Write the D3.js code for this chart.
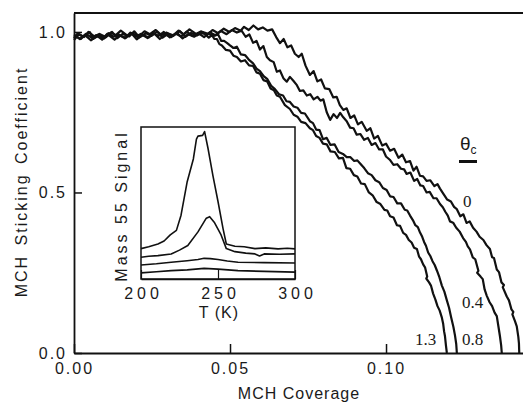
<!DOCTYPE html>
<html lang="en">
<head>
    <meta charset="UTF-8"/>
    <title>MCH Sticking Coefficient</title>
    <script src="https://d3js.org/d3.v7.min.js"></script>
    <style>
        body { margin: 0; background: #fff; }
        svg { display: block; }
        text { font-family: "Liberation Sans", Arial, Helvetica, sans-serif; fill: #1a1a1a; }
        .serif { font-family: "Liberation Serif", "Times New Roman", serif; }
    </style>
</head>
<body>
    <script>
        // main panel: sticking coefficient vs coverage, one curve per theta_c
        var thetaLabels = ["0", "0.4", "0.8", "1.3"];

        var curve0 = [[0.000,0.975],[0.0015,0.992],[0.0032,0.984],[0.0046,1.000],[0.0065,0.986],[0.0081,0.994],[0.0097,0.980],[0.0118,0.998],[0.0134,0.990],[0.0150,1.004],[0.0172,0.988],[0.0189,0.996],[0.0205,0.984],[0.0226,1.002],[0.0243,0.993],[0.0262,1.006],[0.0280,0.990],[0.0297,0.998],[0.0316,0.987],[0.0335,1.004],[0.0352,0.992],[0.0370,1.008],[0.0391,0.994],[0.0408,1.002],[0.0425,0.990],[0.0444,1.006],[0.0462,0.996],[0.0480,1.010],[0.0498,1.000],[0.0516,1.012],[0.0534,1.004],[0.0545,1.016],[0.0560,1.006],[0.0575,1.020],[0.0590,1.008],[0.0605,1.014],[0.0620,1.004],[0.0635,1.008],[0.0648,0.984],[0.0660,0.965],[0.0672,0.978],[0.0684,0.952],[0.0696,0.958],[0.0708,0.932],[0.0720,0.922],[0.0730,0.932],[0.0742,0.895],[0.0756,0.866],[0.0768,0.878],[0.0780,0.846],[0.0792,0.852],[0.0804,0.824],[0.0818,0.822],[0.0831,0.796],[0.0842,0.798],[0.0852,0.772],[0.0863,0.757],[0.0874,0.762],[0.0886,0.732],[0.0898,0.740],[0.0910,0.712],[0.0922,0.720],[0.0938,0.692],[0.0950,0.700],[0.0962,0.668],[0.0974,0.676],[0.0988,0.646],[0.1000,0.652],[0.1013,0.630],[0.1026,0.636],[0.1040,0.608],[0.1052,0.618],[0.1064,0.594],[0.1077,0.598],[0.1088,0.568],[0.1098,0.580],[0.1109,0.552],[0.1119,0.550],[0.1130,0.536],[0.1142,0.538],[0.1155,0.520],[0.1165,0.526],[0.1173,0.512],[0.1185,0.494],[0.1196,0.478],[0.1208,0.472],[0.1218,0.455],[0.1227,0.448],[0.1238,0.426],[0.1248,0.432],[0.1258,0.405],[0.1268,0.410],[0.1279,0.390],[0.1290,0.378],[0.1300,0.362],[0.1312,0.352],[0.1322,0.336],[0.1333,0.324],[0.1340,0.298],[0.1346,0.296],[0.1355,0.260],[0.1362,0.252],[0.1370,0.220],[0.1378,0.212],[0.1374,0.205],[0.1387,0.176],[0.1394,0.164],[0.1402,0.136],[0.1408,0.128],[0.1405,0.120],[0.1413,0.100],[0.1419,0.083],[0.1424,0.050],[0.1426,0.030],[0.1427,0.000]];

        var curve04 = [[0.000,0.988],[0.0022,0.978],[0.0038,0.994],[0.0057,0.982],[0.0071,0.990],[0.0090,0.976],[0.0110,0.996],[0.0127,0.985],[0.0143,0.992],[0.0163,0.980],[0.0181,0.998],[0.0199,0.986],[0.0214,0.994],[0.0236,0.981],[0.0252,0.997],[0.0271,0.988],[0.0288,1.000],[0.0307,0.983],[0.0325,0.995],[0.0344,0.986],[0.0361,1.001],[0.0380,0.988],[0.0399,0.996],[0.0417,0.984],[0.0435,0.999],[0.0453,0.990],[0.0471,1.003],[0.0489,0.993],[0.0506,1.006],[0.0522,0.998],[0.0537,1.004],[0.0550,0.985],[0.0562,0.992],[0.0574,0.966],[0.0585,0.972],[0.0596,0.945],[0.0607,0.956],[0.0618,0.922],[0.0628,0.912],[0.0640,0.906],[0.0650,0.876],[0.0660,0.880],[0.0671,0.856],[0.0682,0.845],[0.0692,0.860],[0.0703,0.848],[0.0713,0.836],[0.0724,0.816],[0.0735,0.818],[0.0746,0.802],[0.0757,0.806],[0.0768,0.790],[0.0780,0.798],[0.0790,0.786],[0.0799,0.790],[0.0810,0.750],[0.0821,0.726],[0.0832,0.744],[0.0843,0.732],[0.0853,0.748],[0.0863,0.734],[0.0874,0.722],[0.0885,0.702],[0.0896,0.700],[0.0906,0.680],[0.0918,0.682],[0.0930,0.664],[0.0942,0.670],[0.0954,0.648],[0.0966,0.654],[0.0978,0.634],[0.0990,0.634],[0.1000,0.612],[0.1012,0.602],[0.1024,0.586],[0.1036,0.588],[0.1048,0.574],[0.1058,0.572],[0.1066,0.558],[0.1078,0.562],[0.1090,0.536],[0.1100,0.542],[0.1110,0.522],[0.1119,0.520],[0.1130,0.500],[0.1140,0.502],[0.1152,0.482],[0.1162,0.482],[0.1173,0.464],[0.1182,0.454],[0.1190,0.440],[0.1198,0.428],[0.1205,0.410],[0.1215,0.406],[0.1225,0.390],[0.1236,0.378],[0.1247,0.358],[0.1256,0.346],[0.1262,0.332],[0.1269,0.323],[0.1278,0.298],[0.1286,0.292],[0.1296,0.256],[0.1292,0.250],[0.1303,0.238],[0.1310,0.230],[0.1316,0.198],[0.1323,0.178],[0.1332,0.158],[0.1340,0.146],[0.1348,0.126],[0.1355,0.115],[0.1360,0.084],[0.1365,0.053],[0.1369,0.024],[0.1371,0.000]];

        var curve08 = [[0.000,0.980],[0.0012,0.996],[0.0029,0.986],[0.0051,0.999],[0.0060,0.978],[0.0085,0.992],[0.0102,0.984],[0.0122,1.000],[0.0139,0.981],[0.0156,0.994],[0.0177,0.986],[0.0193,1.002],[0.0210,0.983],[0.0231,0.996],[0.0248,0.988],[0.0266,1.001],[0.0284,0.982],[0.0302,0.995],[0.0320,0.989],[0.0339,1.003],[0.0357,0.985],[0.0375,0.997],[0.0394,0.989],[0.0413,1.000],[0.0436,0.992],[0.0450,0.988],[0.0462,0.992],[0.0472,0.972],[0.0481,0.972],[0.0490,0.966],[0.0500,0.958],[0.0511,0.950],[0.0522,0.954],[0.0535,0.930],[0.0548,0.928],[0.0560,0.914],[0.0574,0.902],[0.0585,0.886],[0.0596,0.878],[0.0608,0.862],[0.0619,0.854],[0.0632,0.832],[0.0644,0.822],[0.0657,0.806],[0.0670,0.802],[0.0681,0.784],[0.0692,0.782],[0.0704,0.768],[0.0716,0.764],[0.0728,0.748],[0.0740,0.746],[0.0756,0.722],[0.0766,0.716],[0.0776,0.696],[0.0787,0.694],[0.0798,0.666],[0.0810,0.670],[0.0822,0.648],[0.0835,0.650],[0.0848,0.626],[0.0862,0.620],[0.0874,0.610],[0.0886,0.610],[0.0898,0.598],[0.0908,0.600],[0.0917,0.590],[0.0930,0.576],[0.0942,0.560],[0.0954,0.554],[0.0966,0.538],[0.0978,0.532],[0.0990,0.514],[0.1002,0.508],[0.1013,0.488],[0.1024,0.486],[0.1036,0.466],[0.1048,0.466],[0.1060,0.446],[0.1068,0.444],[0.1077,0.428],[0.1086,0.414],[0.1094,0.398],[0.1102,0.392],[0.1109,0.375],[0.1116,0.362],[0.1122,0.346],[0.1128,0.334],[0.1135,0.313],[0.1142,0.302],[0.1149,0.286],[0.1156,0.274],[0.1163,0.257],[0.1171,0.236],[0.1179,0.210],[0.1187,0.191],[0.1195,0.164],[0.1202,0.141],[0.1209,0.110],[0.1216,0.081],[0.1221,0.055],[0.1225,0.028],[0.1227,0.000]];

        var curve13 = [[0.000,0.992],[0.0018,0.978],[0.0035,0.990],[0.0054,0.974],[0.0075,0.988],[0.0093,0.980],[0.0106,0.994],[0.0130,0.976],[0.0146,0.989],[0.0167,0.982],[0.0184,0.996],[0.0201,0.977],[0.0219,0.991],[0.0240,0.983],[0.0257,0.995],[0.0275,0.978],[0.0293,0.992],[0.0311,0.984],[0.0330,0.997],[0.0348,0.980],[0.0366,0.993],[0.0385,0.985],[0.0403,0.998],[0.0420,0.994],[0.0432,0.982],[0.0442,0.990],[0.0450,0.978],[0.0458,0.978],[0.0466,0.962],[0.0474,0.958],[0.0487,0.944],[0.0500,0.942],[0.0511,0.926],[0.0522,0.922],[0.0535,0.908],[0.0548,0.912],[0.0561,0.896],[0.0574,0.894],[0.0585,0.874],[0.0596,0.870],[0.0607,0.850],[0.0619,0.846],[0.0630,0.824],[0.0641,0.818],[0.0650,0.802],[0.0660,0.798],[0.0676,0.772],[0.0692,0.760],[0.0704,0.742],[0.0716,0.736],[0.0728,0.720],[0.0742,0.716],[0.0756,0.700],[0.0766,0.694],[0.0776,0.676],[0.0787,0.670],[0.0798,0.652],[0.0810,0.650],[0.0822,0.628],[0.0836,0.626],[0.0849,0.606],[0.0862,0.608],[0.0873,0.576],[0.0885,0.574],[0.0897,0.554],[0.0908,0.550],[0.0920,0.528],[0.0932,0.526],[0.0945,0.500],[0.0958,0.490],[0.0970,0.470],[0.0982,0.464],[0.0995,0.446],[0.1004,0.444],[0.1013,0.426],[0.1024,0.422],[0.1035,0.398],[0.1045,0.396],[0.1055,0.374],[0.1064,0.368],[0.1073,0.352],[0.1082,0.344],[0.1090,0.328],[0.1099,0.324],[0.1106,0.300],[0.1112,0.292],[0.1119,0.276],[0.1125,0.267],[0.1132,0.238],[0.1129,0.232],[0.1138,0.220],[0.1144,0.210],[0.1151,0.185],[0.1158,0.167],[0.1165,0.146],[0.1172,0.132],[0.1179,0.110],[0.1183,0.092],[0.1186,0.068],[0.1189,0.052],[0.1192,0.024],[0.1195,0.000]];

        var xTicks = [0, 0.05, 0.10];
        var yTicks = [0, 0.5, 1.0];

        // inset: mass 55 TPD traces
        var tpd1 = [[200,0.200],[205,0.212],[211,0.230],[215,0.250],[219,0.290],[223,0.320],[226,0.420],[230,0.640],[234,0.790],[236,0.920],[237,0.940],[240,0.945],[241.3,0.970],[243.5,0.860],[246.7,0.680],[250,0.510],[253.3,0.330],[255.4,0.230],[261,0.215],[267,0.212],[274,0.200],[281,0.205],[289,0.198],[295,0.202],[300,0.198]];
        var tpd2 = [[200,0.143],[205,0.150],[211,0.154],[219.6,0.165],[225,0.190],[230.4,0.220],[237,0.310],[242.4,0.400],[244.6,0.410],[247.8,0.370],[252,0.290],[255.4,0.200],[261,0.180],[268,0.170],[274,0.165],[277,0.152],[280,0.165],[290,0.163],[300,0.165]];
        var tpd3 = [[200,0.092],[210,0.100],[219.6,0.110],[230,0.120],[237,0.128],[241,0.136],[245,0.134],[250,0.128],[256,0.118],[263,0.110],[280,0.108],[300,0.105]];
        var tpd4 = [[200,0.040],[210,0.048],[219.6,0.055],[230,0.060],[241,0.070],[250,0.065],[263,0.055],[280,0.050],[300,0.045]];
        var insetTicks = [200, 250, 300];

        var w = 523;
        var h = 405;

        var svg = d3.select("body")
            .append("svg")
            .attr("width", w)
            .attr("height", h);

        var xScale = d3.scaleLinear().domain([0, 0.1439]).range([74, 523]);
        var yScale = d3.scaleLinear().domain([0, 1.059]).range([353, 13]);

        var line = d3.line()
            .x(function(d) { return xScale(d[0]); })
            .y(function(d) { return yScale(d[1]); });

        [curve0, curve04, curve08, curve13].forEach(function(c) {
            svg.append("path")
                .attr("d", line(c))
                .attr("fill", "none")
                .attr("stroke", "#111")
                .attr("stroke-width", 2.2)
                .attr("stroke-linejoin", "round");
        });

        // axes, ticks point inward
        var xAxis = svg.append("g")
            .attr("transform", "translate(0,353)")
            .call(d3.axisBottom(xScale).tickValues(xTicks).tickFormat(d3.format(".2f"))
                .tickSizeInner(-9).tickSizeOuter(0).tickPadding(10));
        var yAxis = svg.append("g")
            .attr("transform", "translate(74,0)")
            .call(d3.axisLeft(yScale).tickValues(yTicks).tickFormat(d3.format(".1f"))
                .tickSizeInner(-8).tickSizeOuter(0).tickPadding(7));
        [xAxis, yAxis].forEach(function(a) {
            a.select(".domain").attr("stroke", "#111").attr("stroke-width", 1.8);
            a.selectAll(".tick line").attr("stroke", "#111").attr("stroke-width", 1.5);
            a.selectAll(".tick text")
                .attr("font-family", "Liberation Sans, Arial, sans-serif")
                .attr("font-size", 16)
                .attr("letter-spacing", "2px")
                .attr("fill", "#1a1a1a");
        });

        // top frame line
        svg.append("line")
            .attr("x1", xScale(0)).attr("x2", xScale(0.1439))
            .attr("y1", yScale(1.059)).attr("y2", yScale(1.059))
            .attr("stroke", "#111").attr("stroke-width", 1.8);

        // axis titles
        svg.append("text")
            .attr("x", 299).attr("y", 399)
            .attr("text-anchor", "middle")
            .attr("font-size", 16)
            .attr("letter-spacing", "1px")
            .text("MCH Coverage");

        svg.append("text")
            .attr("transform", "translate(27,182) rotate(-90)")
            .attr("text-anchor", "middle")
            .attr("font-size", 16)
            .attr("letter-spacing", "2px")
            .attr("word-spacing", "3px")
            .text("MCH Sticking Coefficient");

        // curve labels
        var labelPos = [[463, 207], [462, 308], [462, 345], [415, 345]];
        thetaLabels.forEach(function(t, i) {
            svg.append("text")
                .attr("class", "serif")
                .attr("x", labelPos[i][0]).attr("y", labelPos[i][1])
                .attr("font-size", 17)
                .text(t);
        });

        // theta_c header with bar
        var head = svg.append("text")
            .attr("x", 460).attr("y", 150)
            .attr("font-size", 19);
        head.append("tspan").text("θ");
        head.append("tspan").attr("font-size", 12).attr("dy", 4).text("c");
        svg.append("rect")
            .attr("x", 459).attr("y", 160)
            .attr("width", 18).attr("height", 3)
            .attr("fill", "#111");

        // inset
        var ix = d3.scaleLinear().domain([200, 300]).range([141, 295]);
        var iy = d3.scaleLinear().domain([0, 1]).range([279, 127]);

        svg.append("rect")
            .attr("x", 141).attr("y", 127)
            .attr("width", 154).attr("height", 152)
            .attr("fill", "#fff")
            .attr("stroke", "#111")
            .attr("stroke-width", 1.5);

        var iline = d3.line()
            .x(function(d) { return ix(d[0]); })
            .y(function(d) { return iy(d[1]); });

        [tpd1, tpd2, tpd3, tpd4].forEach(function(c) {
            svg.append("path")
                .attr("d", iline(c))
                .attr("fill", "none")
                .attr("stroke", "#111")
                .attr("stroke-width", 1.6)
                .attr("stroke-linejoin", "round");
        });

        var iAxis = svg.append("g")
            .attr("transform", "translate(0,279)")
            .call(d3.axisBottom(ix).tickValues(insetTicks).tickFormat(d3.format("d"))
                .tickSizeInner(-9).tickSizeOuter(0).tickPadding(9));
        iAxis.select(".domain").attr("stroke", "#111").attr("stroke-width", 1.5);
        iAxis.selectAll(".tick line").attr("stroke", "#111").attr("stroke-width", 1.2);
        iAxis.selectAll(".tick text")
            .attr("font-family", "Liberation Sans, Arial, sans-serif")
            .attr("font-size", 16)
            .attr("letter-spacing", "4px")
            .attr("dx", "2px")
            .attr("fill", "#1a1a1a");

        svg.append("text")
            .attr("x", 219).attr("y", 318)
            .attr("text-anchor", "middle")
            .attr("font-size", 16)
            .attr("letter-spacing", "1px")
            .text("T (K)");

        svg.append("text")
            .attr("transform", "translate(127,206) rotate(-90)")
            .attr("text-anchor", "middle")
            .attr("font-size", 16)
            .attr("letter-spacing", "3px")
            .text("Mass 55 Signal");
    </script>
</body>
</html>
